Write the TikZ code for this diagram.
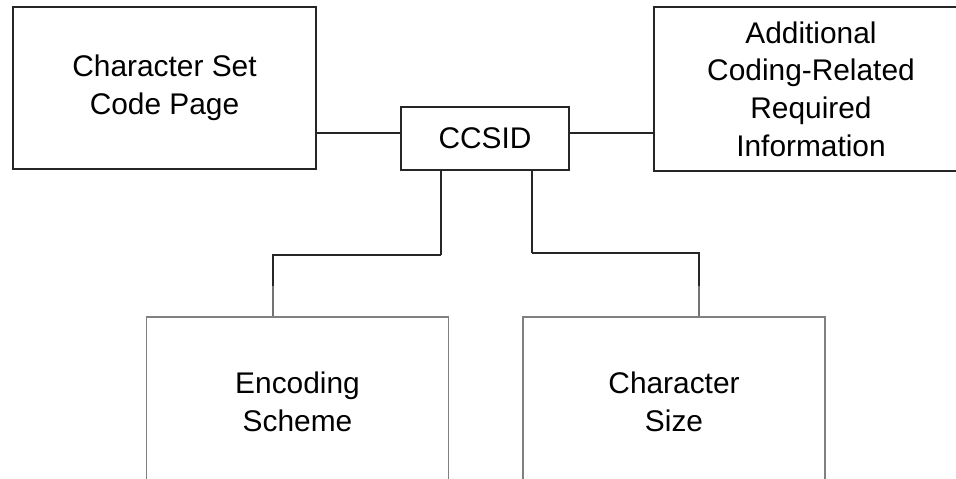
\documentclass[tikz,border=0pt]{standalone}
\usepackage{fontspec}
\setmainfont{Liberation Sans}
\usepackage{tikz}
\usetikzlibrary{positioning,calc}

\begin{document}
\begin{tikzpicture}[
    x=0.02cm, y=0.02cm,
    box/.style={draw=black!85, line width=0.9pt, fill=white, align=center,
                inner sep=0pt, font=\fontsize{17}{21.5}\selectfont},
    bigbox/.style={box, minimum width=6.06cm, minimum height=3.24cm},
    lowbox/.style={box, draw=black!50, line width=1.1pt,
                minimum width=6.04cm, minimum height=3.40cm},
    link/.style={draw=black!85, line width=0.9pt},
    lowlink/.style={draw=black!55, line width=1.1pt}
]
\clip (0,0) rectangle (956,478);
\fill[white] (0,0) rectangle (956,478);

% --- Top row ---
\node[bigbox] (charset) at (164.5,390) {Character Set\\Code Page};
\node[box, minimum width=3.36cm, minimum height=1.26cm] (ccsid) at (485,339.5) {CCSID};
\node[box, minimum width=6.28cm, minimum height=3.28cm] (addl) at (811,389)
    {Additional\\Coding-Related\\Required\\Information};

% --- Bottom row ---
\node[lowbox] (enc) at (297.5,76) {Encoding\\Scheme};
\node[lowbox] (size) at (674,76) {Character\\Size};

% Side links
\coordinate (hubl) at ($(ccsid.west)+(0,5.5)$);
\coordinate (hubr) at ($(ccsid.east)+(0,5.5)$);
\draw[link] (hubl -| charset.east) -- (hubl);
\draw[link] (hubr) -- (hubr -| addl.west);

% Down links
\draw[link] ($(ccsid.south)+(-44,0)$) -- ++(0,-84) coordinate (bendl);
\draw[link] (bendl) -| ($(enc.north)+(-24.5,30)$);
\draw[lowlink] ($(enc.north)+(-24.5,30)$) -- ($(enc.north)+(-24.5,0)$);
\draw[link] ($(ccsid.south)+(47,0)$) -- ++(0,-82) coordinate (bendr);
\draw[link] (bendr) -| ($(size.north)+(25,30)$);
\draw[lowlink] ($(size.north)+(25,30)$) -- ($(size.north)+(25,0)$);

\end{tikzpicture}
\end{document}
